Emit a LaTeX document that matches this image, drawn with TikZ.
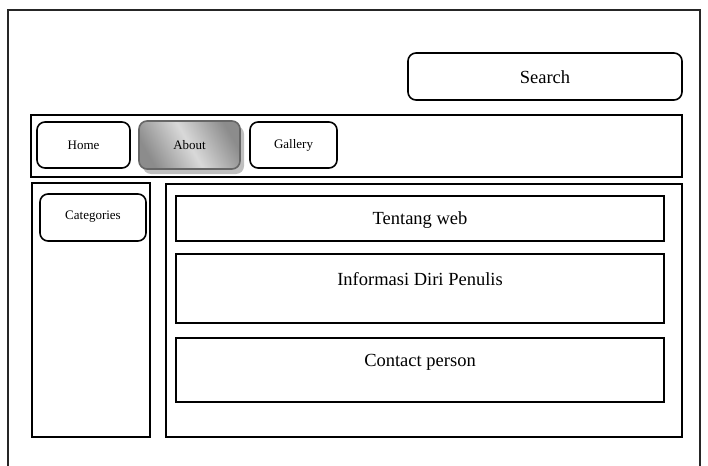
\documentclass[tikz,border=0pt]{standalone}
\usepackage{fontspec}
\setmainfont{Liberation Serif}
\usetikzlibrary{shadows}
\begin{document}
\begin{tikzpicture}[x=1pt,y=-1pt,
  box/.style={draw=black,line width=1.6pt,inner sep=0pt},
  rbox/.style={box,rounded corners=8pt},
  big/.style={font=\fontsize{18.5}{21}\selectfont},
  small/.style={font=\fontsize{13}{15}\selectfont}]
\useasboundingbox (0,0) rectangle (708,465);
\begin{scope}
\clip (0,0) rectangle (708,465);
\draw[line width=1.4pt,black!85] (8,480) -- (8,10) -- (700,10) -- (700,480);
\end{scope}
% search
\draw[rbox] (408,53) rectangle (682,100);
\node[big] (search) at (545,77) {Search};
% nav bar
\draw[box] (31,115) rectangle (682,177);
\draw[rbox] (37,122) rectangle (130,168);
\node[small] (home) at (83.5,145) {Home};
\fill[black!25,rounded corners=8pt] (143,126) rectangle (244,174);
\shade[rounded corners=8pt,top color=black!45,bottom color=black!45,middle color=black!15,shading angle=-60]
  (139,121) rectangle (240,169);
\draw[black!60,line width=1.6pt,rounded corners=8pt] (139,121) rectangle (240,169);
\node[small] (about) at (189.5,145) {About};
\draw[rbox] (250,122) rectangle (337,168);
\node[small] (gallery) at (293.5,145) {Gallery};
% sidebar
\draw[box] (32,183) rectangle (150,437);
\draw[rbox] (40,194) rectangle (146,241);
\node[small] (cat) at (93,217) {Categories};
% content
\draw[box] (166,184) rectangle (682,437);
\draw[box] (176,196) rectangle (664,241);
\node[big] (tentang) at (420,220) {Tentang web};
\draw[box] (176,254) rectangle (664,323);
\node[big] (info) at (420,279) {Informasi Diri Penulis};
\draw[box] (176,338) rectangle (664,402);
\node[big] (contact) at (420,362) {Contact person};
\end{tikzpicture}
\end{document}
